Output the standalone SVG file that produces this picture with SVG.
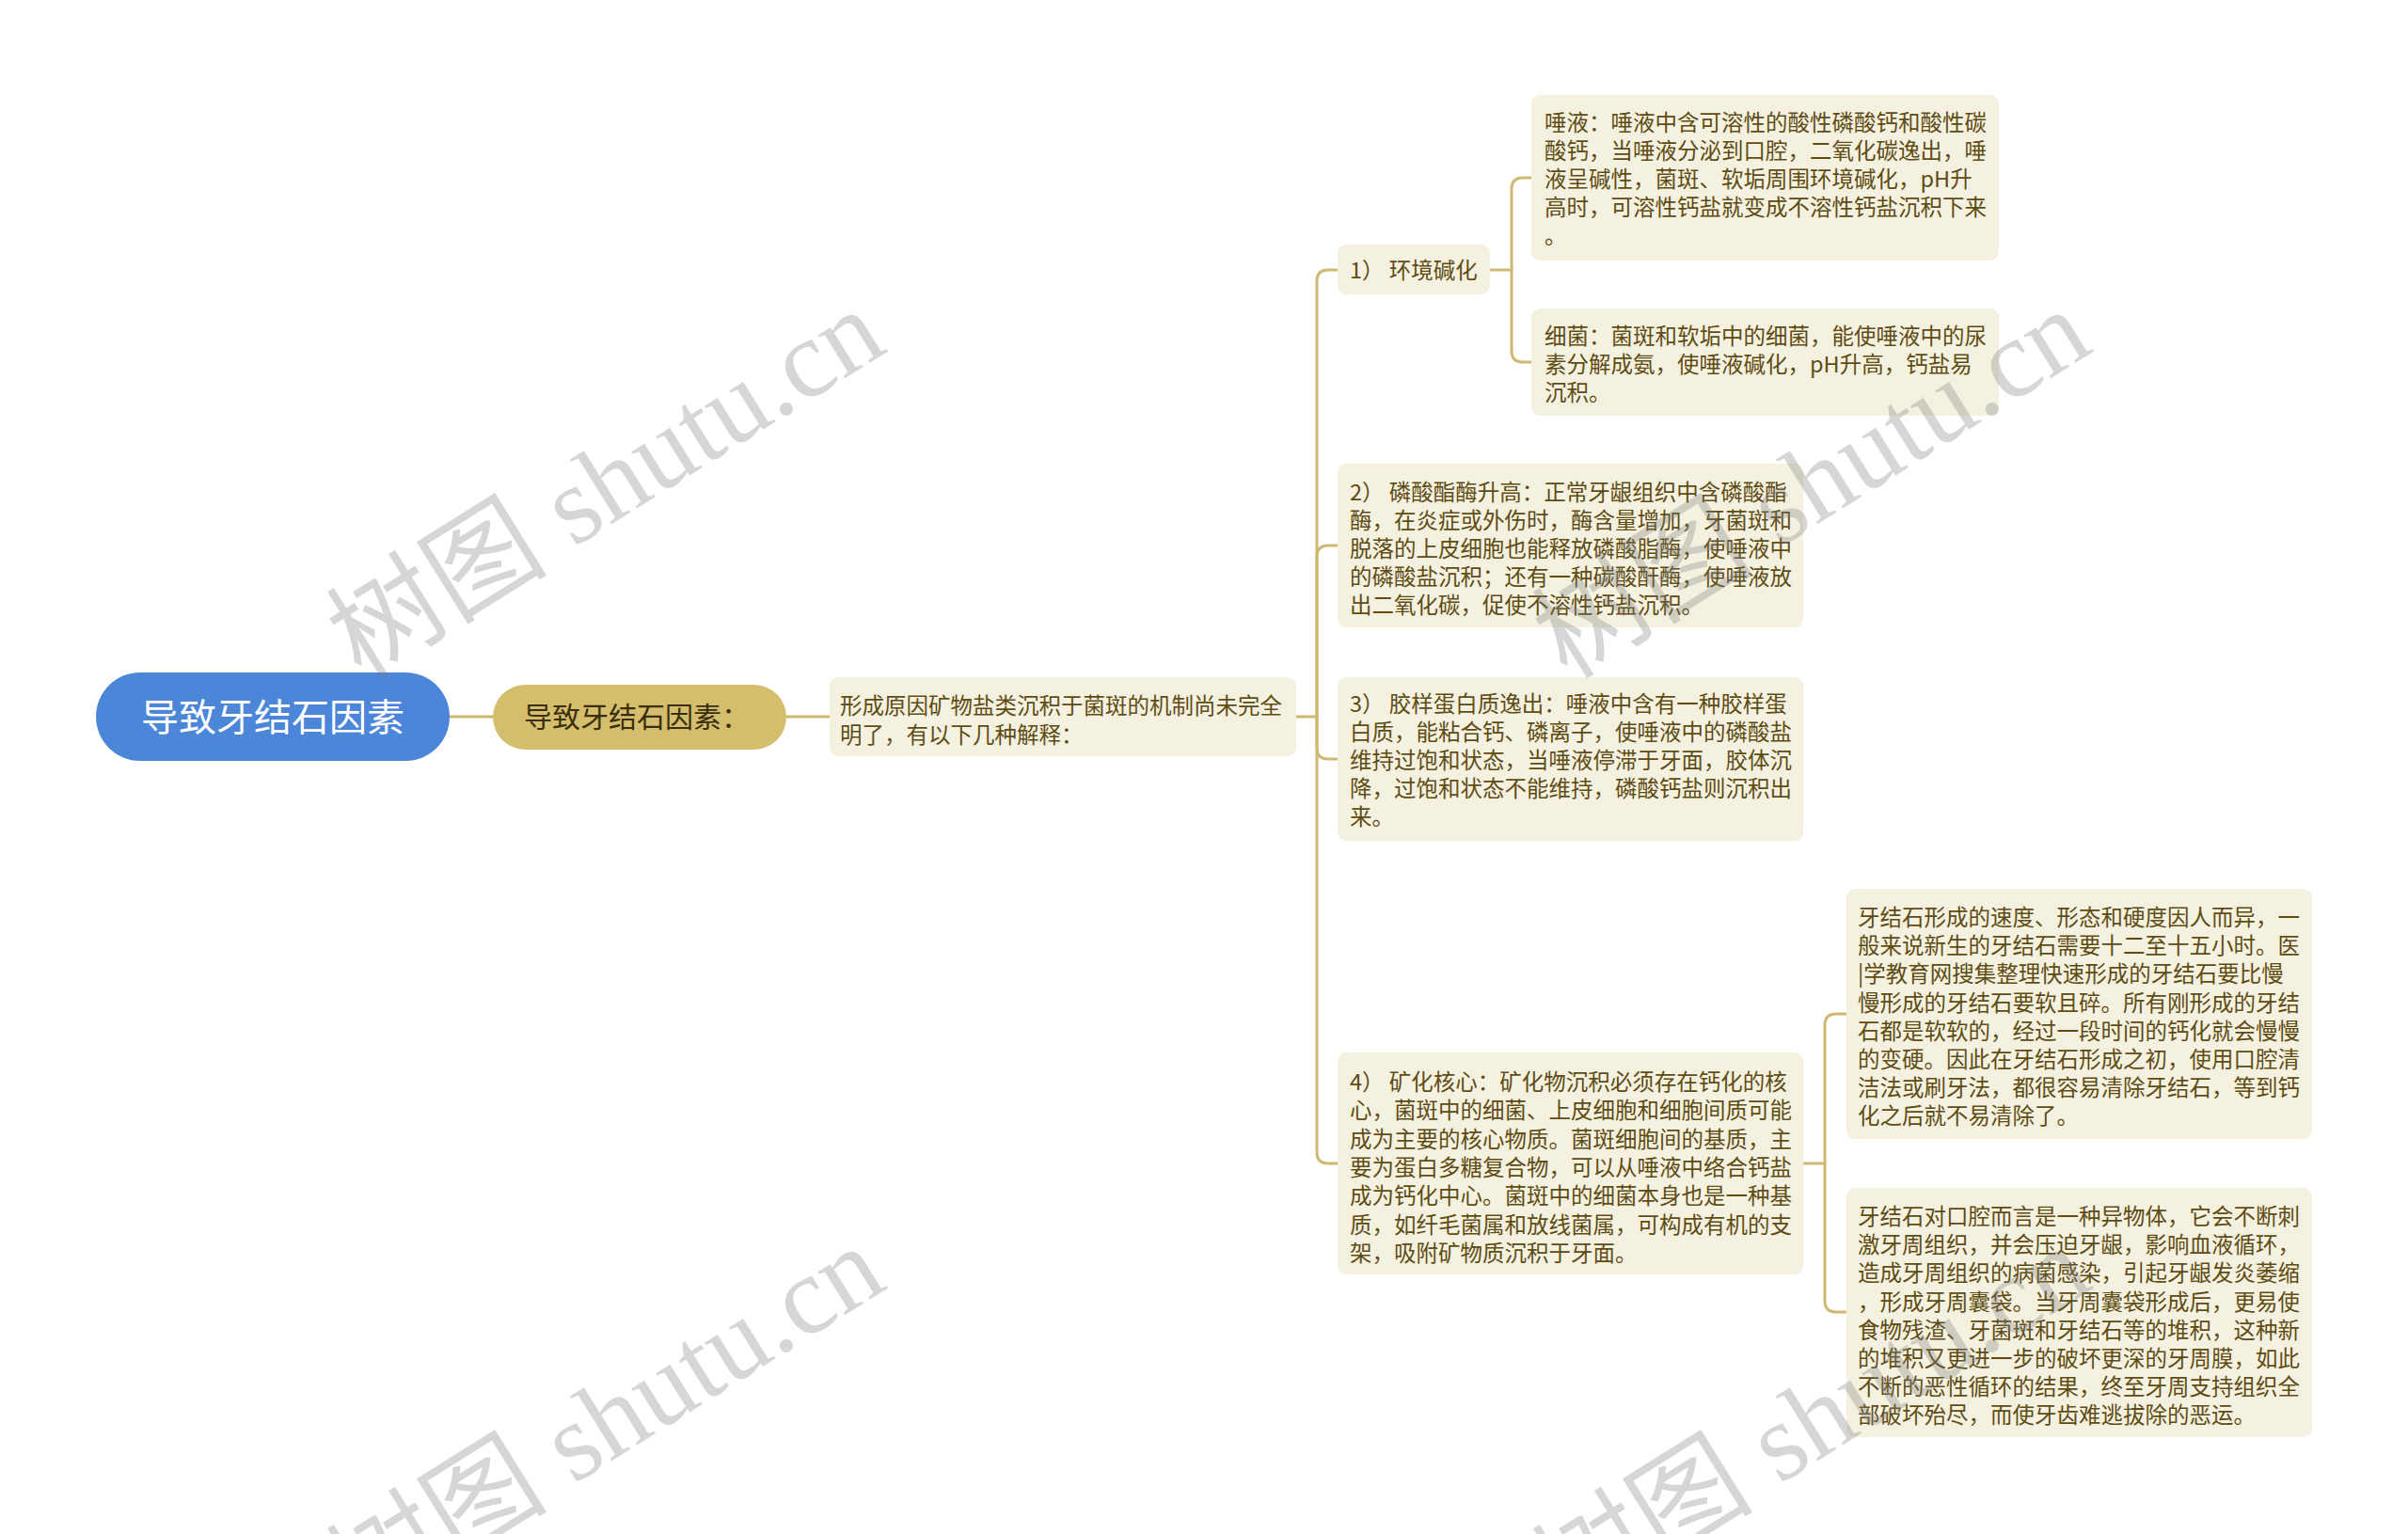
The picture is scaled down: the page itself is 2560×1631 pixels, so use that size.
<svg xmlns="http://www.w3.org/2000/svg" width="2560" height="1631" viewBox="0 0 2560 1631">
<style>
.c{fill:none;stroke:#cfb870;stroke-width:3;stroke-linecap:round}
.leaf{fill:#f5f1e1}
.t{font-family:"Noto Sans CJK SC","Noto Sans",sans-serif;font-size:23.5px;fill:#5e4c12}
.wm{font-family:"Liberation Serif","Noto Sans CJK SC",serif;font-size:118px;fill:#7a7a7a;opacity:0.3}
</style>
<rect width="2560" height="1631" fill="#ffffff"/>
<g id="connectors">
<path class="c" d="M478 762H524"/>
<path class="c" d="M836 762H882"/>
<path class="c" d="M1378 762H1400"/>
<path class="c" d="M1400 762V299Q1400 287 1412 287H1422"/>
<path class="c" d="M1400 762V592Q1400 580 1412 580H1422"/>
<path class="c" d="M1400 762V795Q1400 807 1412 807H1422"/>
<path class="c" d="M1400 762V1225Q1400 1237 1412 1237H1422"/>
<path class="c" d="M1584 287H1607"/>
<path class="c" d="M1607 287V201Q1607 189 1619 189H1628"/>
<path class="c" d="M1607 287V373Q1607 385 1619 385H1628"/>
<path class="c" d="M1917 1237H1940"/>
<path class="c" d="M1940 1237V1090Q1940 1078 1952 1078H1963"/>
<path class="c" d="M1940 1237V1383Q1940 1395 1952 1395H1963"/>
</g>
<g id="root">
<rect x="102" y="715" width="376" height="94" rx="47" fill="#4c86d8"/>
<text x="290" y="777" text-anchor="middle" style="font-family:'Noto Sans CJK SC',sans-serif;font-size:40px;fill:#ffffff">导致牙结石因素</text>
</g>
<g id="n-factors">
<rect x="524" y="728" width="312" height="69" rx="34.5" fill="#d4bd6c"/>
<text x="557" y="773" style="font-family:'Noto Sans CJK SC',sans-serif;font-size:30px;fill:#3a2f0c">导致牙结石因素：</text>
</g>
<g id="n-cause">
<rect class="leaf" x="882" y="720" width="496" height="84" rx="9"/>
<text class="t" x="893"><tspan x="893" y="759">形成原因矿物盐类沉积于菌斑的机制尚未完全</tspan><tspan x="893" y="790">明了，有以下几种解释：</tspan></text>
</g>
<g id="n-1">
<rect class="leaf" x="1422" y="260" width="162" height="53" rx="9"/>
<text class="t" x="1435" y="296" xml:space="preserve">1） 环境碱化</text>
</g>
<g id="n-1a">
<rect class="leaf" x="1628" y="101" width="497" height="176" rx="9"/>
<text class="t"><tspan x="1642" y="139">唾液：唾液中含可溶性的酸性磷酸钙和酸性碳</tspan><tspan x="1642" y="169">酸钙，当唾液分泌到口腔，二氧化碳逸出，唾</tspan><tspan x="1642" y="199">液呈碱性，菌斑、软垢周围环境碱化，pH升</tspan><tspan x="1642" y="229">高时，可溶性钙盐就变成不溶性钙盐沉积下来</tspan><tspan x="1642" y="259">。</tspan></text>
</g>
<g id="n-1b">
<rect class="leaf" x="1628" y="328" width="497" height="114" rx="9"/>
<text class="t"><tspan x="1642" y="366">细菌：菌斑和软垢中的细菌，能使唾液中的尿</tspan><tspan x="1642" y="396">素分解成氨，使唾液碱化，pH升高，钙盐易</tspan><tspan x="1642" y="426">沉积。</tspan></text>
</g>
<g id="n-2">
<rect class="leaf" x="1422" y="493" width="495" height="174" rx="9"/>
<text class="t" xml:space="preserve"><tspan x="1435" y="532">2） 磷酸酯酶升高：正常牙龈组织中含磷酸酯</tspan><tspan x="1435" y="562">酶，在炎症或外伤时，酶含量增加，牙菌斑和</tspan><tspan x="1435" y="592">脱落的上皮细胞也能释放磷酸脂酶，使唾液中</tspan><tspan x="1435" y="622">的磷酸盐沉积；还有一种碳酸酐酶，使唾液放</tspan><tspan x="1435" y="652">出二氧化碳，促使不溶性钙盐沉积。</tspan></text>
</g>
<g id="n-3">
<rect class="leaf" x="1422" y="720" width="495" height="174" rx="9"/>
<text class="t" xml:space="preserve"><tspan x="1435" y="757">3） 胶样蛋白质逸出：唾液中含有一种胶样蛋</tspan><tspan x="1435" y="787">白质，能粘合钙、磷离子，使唾液中的磷酸盐</tspan><tspan x="1435" y="817">维持过饱和状态，当唾液停滞于牙面，胶体沉</tspan><tspan x="1435" y="847">降，过饱和状态不能维持，磷酸钙盐则沉积出</tspan><tspan x="1435" y="877">来。</tspan></text>
</g>
<g id="n-4">
<rect class="leaf" x="1422" y="1119" width="495" height="236" rx="9"/>
<text class="t" xml:space="preserve"><tspan x="1435" y="1159">4） 矿化核心：矿化物沉积必须存在钙化的核</tspan><tspan x="1435" y="1189.3">心，菌斑中的细菌、上皮细胞和细胞间质可能</tspan><tspan x="1435" y="1219.6">成为主要的核心物质。菌斑细胞间的基质，主</tspan><tspan x="1435" y="1249.9">要为蛋白多糖复合物，可以从唾液中络合钙盐</tspan><tspan x="1435" y="1280.2">成为钙化中心。菌斑中的细菌本身也是一种基</tspan><tspan x="1435" y="1310.5">质，如纤毛菌属和放线菌属，可构成有机的支</tspan><tspan x="1435" y="1340.8">架，吸附矿物质沉积于牙面。</tspan></text>
</g>
<g id="n-4a">
<rect class="leaf" x="1963" y="945" width="495" height="266" rx="9"/>
<text class="t"><tspan x="1975" y="984">牙结石形成的速度、形态和硬度因人而异，一</tspan><tspan x="1975" y="1014.2">般来说新生的牙结石需要十二至十五小时。医</tspan><tspan x="1975" y="1044.4">|学教育网搜集整理快速形成的牙结石要比慢</tspan><tspan x="1975" y="1074.6">慢形成的牙结石要软且碎。所有刚形成的牙结</tspan><tspan x="1975" y="1104.8">石都是软软的，经过一段时间的钙化就会慢慢</tspan><tspan x="1975" y="1135">的变硬。因此在牙结石形成之初，使用口腔清</tspan><tspan x="1975" y="1165.2">洁法或刷牙法，都很容易清除牙结石，等到钙</tspan><tspan x="1975" y="1195.4">化之后就不易清除了。</tspan></text>
</g>
<g id="n-4b">
<rect class="leaf" x="1963" y="1263" width="495" height="265" rx="9"/>
<text class="t"><tspan x="1975" y="1302">牙结石对口腔而言是一种异物体，它会不断刺</tspan><tspan x="1975" y="1332.2">激牙周组织，并会压迫牙龈，影响血液循环，</tspan><tspan x="1975" y="1362.4">造成牙周组织的病菌感染，引起牙龈发炎萎缩</tspan><tspan x="1975" y="1392.6">，形成牙周囊袋。当牙周囊袋形成后，更易使</tspan><tspan x="1975" y="1422.8">食物残渣、牙菌斑和牙结石等的堆积，这种新</tspan><tspan x="1975" y="1453">的堆积又更进一步的破坏更深的牙周膜，如此</tspan><tspan x="1975" y="1483.2">不断的恶性循环的结果，终至牙周支持组织全</tspan><tspan x="1975" y="1513.4">部破坏殆尽，而使牙齿难逃拔除的恶运。</tspan></text>
</g>
<g id="watermarks">
<text class="wm" text-anchor="middle" transform="translate(665 548) rotate(-32)">树图 shutu.cn</text>
<text class="wm" text-anchor="middle" transform="translate(1947 548) rotate(-32)">树图 shutu.cn</text>
<text class="wm" text-anchor="middle" transform="translate(665 1544) rotate(-32)">树图 shutu.cn</text>
<text class="wm" text-anchor="middle" transform="translate(1947 1544) rotate(-32)">树图 shutu.cn</text>
</g>
</svg>
